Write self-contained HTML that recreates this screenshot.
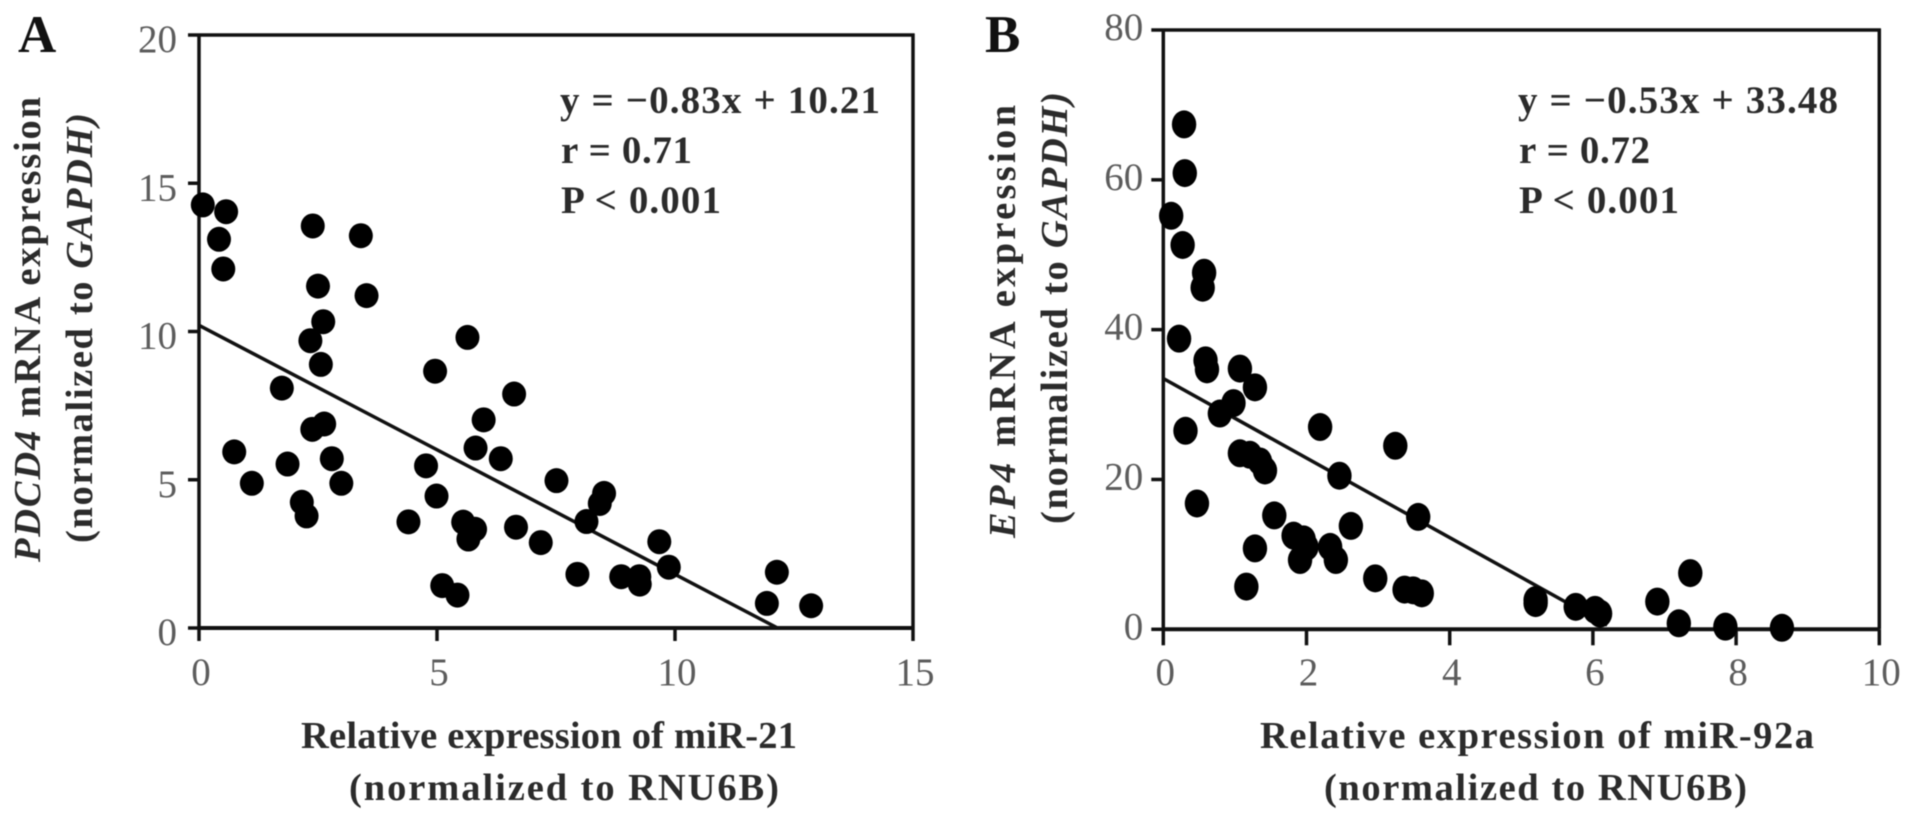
<!DOCTYPE html>
<html lang="en">
<head>
<meta charset="utf-8">
<title>Correlation scatter plots</title>
<style>
html,body{margin:0;padding:0;background:#fff;width:1913px;height:823px;overflow:hidden}
svg{display:block;filter:blur(0.55px)}
text{font-family:"Liberation Serif",serif}
.tick{font-size:39px;fill:#5c5c5c}
.lab{font-size:38.5px;font-weight:bold;fill:#2b2b2b}
.stat{font-size:39px;font-weight:bold;fill:#2b2b2b}
.letter{font-size:53px;font-weight:bold;fill:#111}
</style>
</head>
<body>
<svg id="figure" width="1913" height="823" viewBox="0 0 1913 823" xmlns="http://www.w3.org/2000/svg">
  <rect x="0" y="0" width="1913" height="823" fill="#fff"/>

  <g id="panel-a"></g>
  <g id="panel-b"></g>

  <text class="letter" x="18" y="52">A</text>
  <text class="letter" x="985" y="52">B</text>

  <text class="lab" transform="translate(40,562) rotate(-90)" textLength="465" lengthAdjust="spacing"><tspan font-style="italic">PDCD4</tspan> mRNA expression</text>
  <text class="lab" transform="translate(92,543) rotate(-90)" textLength="430" lengthAdjust="spacing">(normalized to <tspan font-style="italic">GAPDH)</tspan></text>
  <text class="lab" x="301" y="748" textLength="496" lengthAdjust="spacing">Relative expression of miR-21</text>
  <text class="lab" x="349" y="800" textLength="430" lengthAdjust="spacing">(normalized to RNU6B)</text>

  <text class="stat" x="560" y="113" textLength="320" lengthAdjust="spacing">y = −0.83x + 10.21</text>
  <text class="stat" x="561" y="163" textLength="131" lengthAdjust="spacing">r = 0.71</text>
  <text class="stat" x="561" y="213" textLength="160" lengthAdjust="spacing">P &lt; 0.001</text>

  <text class="lab" transform="translate(1015,538) rotate(-90)" textLength="433" lengthAdjust="spacing"><tspan font-style="italic">EP4</tspan> mRNA expression</text>
  <text class="lab" transform="translate(1067,524) rotate(-90)" textLength="432" lengthAdjust="spacing">(normalized to <tspan font-style="italic">GAPDH)</tspan></text>
  <text class="lab" x="1260" y="748" textLength="554" lengthAdjust="spacing">Relative expression of miR-92a</text>
  <text class="lab" x="1324" y="800" textLength="423" lengthAdjust="spacing">(normalized to RNU6B)</text>

  <text class="stat" x="1518" y="113" textLength="320" lengthAdjust="spacing">y = −0.53x + 33.48</text>
  <text class="stat" x="1519" y="163" textLength="131" lengthAdjust="spacing">r = 0.72</text>
  <text class="stat" x="1519" y="213" textLength="160" lengthAdjust="spacing">P &lt; 0.001</text>
</svg>

<script>
// Panel A data
const xTicksA = [0, 5, 10, 15];
const yTicksA = [0, 5, 10, 15, 20];
const mir21 = [0.08,0.57,0.42,0.51,2.39,3.40,2.50,3.52,2.61,2.34,2.56,1.74,5.64,4.96,6.62,5.98,2.63,2.38,0.74,5.81,6.34,1.86,2.79,4.77,1.11,2.99,2.16,2.26,4.99,7.51,8.51,8.42,8.14,4.40,5.55,5.80,5.66,6.66,7.18,9.67,9.87,7.95,8.87,9.25,9.26,5.11,5.43,12.14,11.93,12.86];
const pdcd4 = [14.27,14.04,13.11,12.11,13.56,13.23,11.53,11.21,10.33,9.69,8.89,8.09,9.80,8.66,7.89,7.02,6.88,6.70,5.94,6.07,5.71,5.53,5.71,5.47,4.88,4.88,4.24,3.78,4.45,4.97,4.54,4.20,3.59,3.58,3.57,3.33,3.00,3.40,2.88,2.91,2.05,1.81,1.73,1.73,1.48,1.43,1.11,1.88,0.83,0.75];
const fitSlopeA = -0.84;
const fitInterceptA = 10.21;
const fitEndA = 12.15;

// Panel B data
const xTicksB = [0, 2, 4, 6, 8, 10];
const yTicksB = [0, 20, 40, 60, 80];
const mir92a = [0.29,0.30,0.11,0.27,0.57,0.55,0.22,0.59,0.61,1.07,1.28,0.98,0.79,0.31,2.19,3.24,2.46,3.56,0.47,1.07,1.21,1.35,1.42,1.55,2.62,1.82,1.96,2.00,1.91,2.33,2.41,1.28,1.16,2.96,3.37,3.49,3.61,5.20,5.20,5.76,6.03,6.10,6.90,7.36,7.20,7.85,8.64];
const ep4 = [67.4,60.9,55.2,51.3,47.6,45.6,38.8,35.9,34.7,34.8,32.3,30.2,28.8,26.5,27.0,24.5,20.5,15.0,16.8,23.5,23.3,22.4,21.2,15.2,13.8,12.5,12.0,11.0,9.25,11.0,9.25,10.8,5.7,6.8,5.3,5.2,4.8,3.9,3.5,3.0,2.6,2.1,3.7,7.5,0.8,0.35,0.2];
const fitSlopeB = -5.31;
const fitInterceptB = 33.48;
const fitEndB = 6.2;

const NS = 'http://www.w3.org/2000/svg';

function svgEl(tag, parent) {
  const el = document.createElementNS(NS, tag);
  parent.appendChild(el);
  return el;
}

function drawLine(parent, x1, y1, x2, y2, width, name) {
  const el = svgEl('line', parent);
  el.setAttribute('x1', x1);
  el.setAttribute('y1', y1);
  el.setAttribute('x2', x2);
  el.setAttribute('y2', y2);
  el.setAttribute('stroke', '#111');
  el.setAttribute('stroke-width', width);
  
  
  return el;
}

function drawLabel(parent, x, y, anchor, text, name) {
  const el = svgEl('text', parent);
  el.setAttribute('class', 'tick');
  el.setAttribute('x', x);
  el.setAttribute('y', y);
  el.setAttribute('text-anchor', anchor);
  el.textContent = text;
  
  
  return el;
}

function drawPanel(p) {
  const g = document.getElementById(p.id);
  const sx = v => p.left + (v - p.xTicks[0]) / (p.xTicks[p.xTicks.length - 1] - p.xTicks[0]) * (p.right - p.left);
  const sy = v => p.bottom - (v - p.yTicks[0]) / (p.yTicks[p.yTicks.length - 1] - p.yTicks[0]) * (p.bottom - p.top);

  // frame
  drawLine(g, p.left, p.top - 1.5, p.left, p.bottom + 1.5, 3.5, p.id + '-y-axis');
  drawLine(g, p.left, p.top, p.right + 1.5, p.top, 3.5, p.id + '-top-border');
  drawLine(g, p.right, p.top - 1.5, p.right, p.bottom, 3.5, p.id + '-right-border');
  drawLine(g, p.left, p.bottom, p.right, p.bottom, 4, p.id + '-x-axis');

  // ticks and tick labels
  p.yTicks.forEach(t => {
    drawLine(g, p.left - p.yTickLen, sy(t), p.left, sy(t), 3.5, p.id + '-y-tick-' + t);
    drawLabel(g, p.left - p.yLabelGap, sy(t) + p.yLabelDy, 'end', String(t), p.id + '-y-tick-label-' + t);
  });
  p.xTicks.forEach(t => {
    drawLine(g, sx(t), p.bottom, sx(t), p.bottom + p.xTickLen, 3.5, p.id + '-x-tick-' + t);
    drawLabel(g, sx(t) + 2, p.xLabelY, 'middle', String(t), p.id + '-x-tick-label-' + t);
  });

  // regression line
  drawLine(g, sx(0), sy(p.intercept), sx(p.endX), sy(p.intercept + p.slope * p.endX), 3.5, p.id + '-regression-line');

  // points
  p.xs.forEach((v, i) => {
    const c = svgEl('ellipse', g);
    c.setAttribute('cx', sx(v));
    c.setAttribute('cy', sy(p.ys[i]));
    c.setAttribute('rx', p.rx);
    c.setAttribute('ry', p.ry);
    c.setAttribute('fill', '#000');
    
    
  });
}

drawPanel({
  id: 'panel-a', left: 199, right: 913, top: 35, bottom: 628,
  xTicks: xTicksA, yTicks: yTicksA, xs: mir21, ys: pdcd4,
  slope: fitSlopeA, intercept: fitInterceptA, endX: fitEndA,
  rx: 12, ry: 12.5, yTickLen: 11, xTickLen: 13, yLabelGap: 22, yLabelDy: 17, xLabelY: 685
});
drawPanel({
  id: 'panel-b', left: 1163.3, right: 1879.3, top: 30, bottom: 629.3,
  xTicks: xTicksB, yTicks: yTicksB, xs: mir92a, ys: ep4,
  slope: fitSlopeB, intercept: fitInterceptB, endX: fitEndB,
  rx: 12.2, ry: 14, yTickLen: 12, xTickLen: 16, yLabelGap: 20, yLabelDy: 10, xLabelY: 685
});
</script>
</body>
</html>
